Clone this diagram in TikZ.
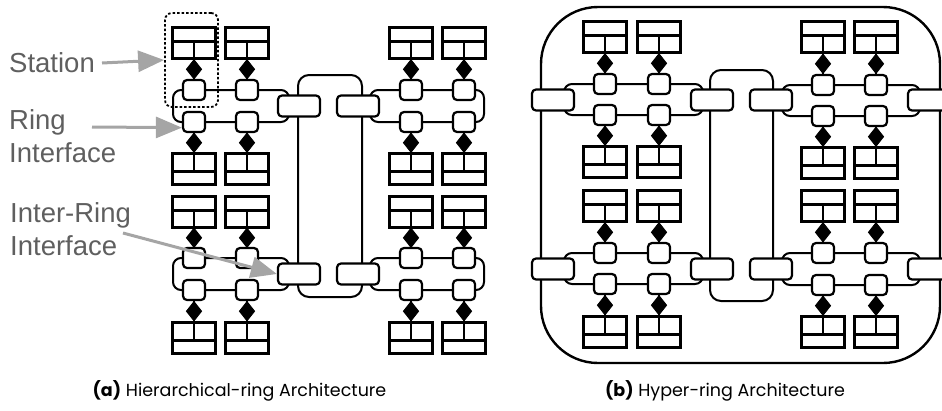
\documentclass[tikz,border=0pt]{standalone}
\usepackage{fontspec}
\usetikzlibrary{shapes.geometric, arrows.meta}

\newfontfamily\notefont{Liberation Sans}
\newfontfamily\capfont{Poppins}

\definecolor{notegray}{RGB}{95,95,95}
\definecolor{pointgray}{RGB}{165,165,165}

% one local ring: two stations above it, two below it
% #1 name, #2 #3 columns, #4 upper stations, #5 #6 ring rows,
% #7 lower stations, #8 #9 ring ends
\newcommand{\ringcluster}[9]{%
  \draw [ring] (#8, #5) rectangle (#9, #6);
  \foreach \c/\x in {1/#2, 2/#3} {
    \node at (\x, #4) [stationup, name = #1-st\c] {};
    \node at (\x, #5) [iface, name = #1-it\c] {};
    \node at (\x, #6) [iface, name = #1-ib\c] {};
    \node at (\x, #7) [stationdown, name = #1-sb\c] {};
    \draw [link] (#1-st\c) to node [tie] {} (#1-it\c);
    \draw [link] (#1-ib\c) to node [tie] {} (#1-sb\c);
  }%
}

\begin{document}
\begin{tikzpicture}[
    x = 1pt, y = -1pt,
    %
    station/.style = {draw, fill = white,
      line width = 2.4pt,
      minimum width = 43pt, minimum height = 31pt,
      inner sep = 0pt},
    stationup/.style = {station, path picture = {
        \draw [line width = 2.4pt]
        ([yshift = -14pt] path picture bounding box.north west) --
        ([yshift = -14pt] path picture bounding box.north east)
        ([yshift = -14pt] path picture bounding box.north) --
        (path picture bounding box.south);}},
    stationdown/.style = {station, path picture = {
        \draw [line width = 2.4pt]
        ([yshift = 13pt] path picture bounding box.south west) --
        ([yshift = 13pt] path picture bounding box.south east)
        ([yshift = 13pt] path picture bounding box.south) --
        (path picture bounding box.north);}},
    %
    iface/.style = {draw, fill = white,
      line width = 2.2pt, rounded corners = 4pt,
      minimum width = 22pt, minimum height = 20pt,
      inner sep = 0pt},
    iri/.style = {iface, minimum width = 42pt, minimum height = 21pt},
    %
    tie/.style = {diamond, draw, fill = black, line width = 1pt,
      inner sep = 0pt, outer sep = 0pt,
      minimum width = 15pt, minimum height = 19pt},
    link/.style = {line width = 2pt},
    ring/.style = {draw, line width = 2pt, rounded corners = 8pt},
    %
    note/.style = {text = notegray, inner sep = 0pt, align = left,
      font = \notefont\fontsize{27.5}{33}\selectfont},
    pointer/.style = {pointgray, line width = 3pt,
      -{Triangle[length = 26pt, width = 21pt]}},
    caption/.style = {inner sep = 0pt,
      font = \capfont\fontsize{17.5}{20}\selectfont},
    ]

    \clip (0, 0) rectangle (942, 410);

    % (a) global ring, then the local rings
    \draw [ring, rounded corners = 11pt] (298, 75) rectangle (362, 297);

    \ringcluster{aL1}{194}{247}{43}{90}{122}{169}{173}{289}
    \ringcluster{aR1}{411}{464}{43}{90}{122}{169}{370}{484}
    \ringcluster{aL2}{194}{247}{212}{258}{290}{338}{173}{289}
    \ringcluster{aR2}{411}{464}{212}{258}{290}{338}{370}{484}

    \node at (299, 106) [iri, name = aL1-iri] {};
    \node at (358, 106) [iri, name = aR1-iri] {};
    \node at (299, 274) [iri, name = aL2-iri] {};
    \node at (358, 274) [iri, name = aR2-iri] {};

    \node at (191.5, 60)
    [draw, line width = 1.8pt, rounded corners = 7pt,
      dash pattern = on 2.5pt off 2pt,
      minimum width = 53pt, minimum height = 94pt,
      name = stbox] {};

    % labels on the left
    \node at (9, 63) [note, anchor = west, name = lbl-st] {Station};
    \node at (9, 109) [note, anchor = north west, name = lbl-ri]
    {Ring\\Interface};
    \node at (10, 202) [note, anchor = north west, name = lbl-iri]
    {Inter-Ring\\Interface};

    \coordinate (st-tail) at (102, 63);
    \coordinate (ri-tail) at (92, 127);
    \coordinate (iri-tail) at (123, 233);

    \draw [pointer] (st-tail) to (stbox.west);
    \draw [pointer] (ri-tail) to (aL1-ib1.-155);
    \draw [pointer] (iri-tail) to (aL2-iri.west);

    % (b) hyper ring and central ring, then the local rings
    \draw [ring, line width = 2.4pt, rounded corners = 57pt]
    (541, 7) rectangle (940, 363);
    \draw [ring, rounded corners = 11pt] (710, 70) rectangle (773, 301);

    \ringcluster{bL1}{605}{659}{37}{84}{115}{162}{564}{703}
    \ringcluster{bR1}{823}{876}{37}{85}{116}{163}{782}{920}
    \ringcluster{bL2}{605}{659}{206}{253}{284}{332}{564}{703}
    \ringcluster{bR2}{823}{876}{206}{253}{285}{332}{782}{920}

    \node at (553, 100) [iri, name = bL1-irl] {};
    \node at (712, 100) [iri, name = bL1-irr] {};
    \node at (771, 100) [iri, name = bR1-irl] {};
    \node at (929, 100) [iri, name = bR1-irr] {};
    \node at (553, 269) [iri, name = bL2-irl] {};
    \node at (712, 269) [iri, name = bL2-irr] {};
    \node at (771, 269) [iri, name = bR2-irl] {};
    \node at (929, 269) [iri, name = bR2-irr] {};

    % captions
    \node at (239.5, 391) [caption, name = cap-a]
    {\textbf{(a)} Hierarchical-ring Architecture};
    \node at (725, 391) [caption, name = cap-b]
    {\textbf{(b)} Hyper-ring Architecture};

  \end{tikzpicture}
\end{document}
